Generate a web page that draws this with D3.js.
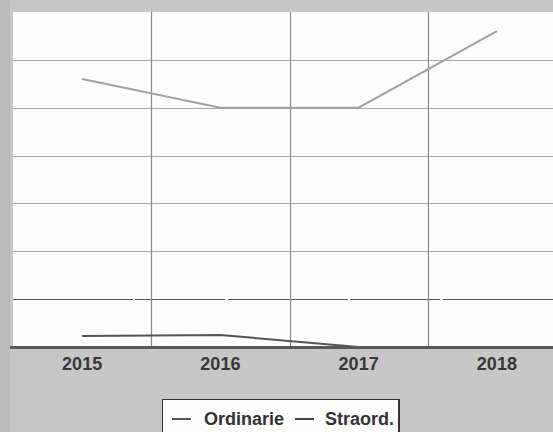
<!DOCTYPE html>
<html>
<head>
<meta charset="utf-8">
<script src="https://cdn.jsdelivr.net/npm/d3@7"></script>
<style>
  html, body { margin: 0; padding: 0; background: #c7c7c7; }
  svg { display: block; }
</style>
</head>
<body>
<svg id="chart" width="553" height="432"></svg>
<script>
// ---- data ----
const years = ["2015", "2016", "2017", "2018"];
const ordinarie = [56, 50, 50, 66];
const straord = [2.3, 2.5, 0, 0];
const yTicks = [0, 10, 20, 30, 40, 50, 60, 70];
const seriesNames = ["Ordinarie", "Straord."];

const W = 553, H = 432;
const svg = d3.select("#chart");

// background
svg.append("rect").attr("width", W).attr("height", H).attr("fill", "#c7c7c7");
svg.append("rect").attr("x", 0).attr("y", 0).attr("width", 10).attr("height", H).attr("fill", "#bababa");

const plot = { left: 13, top: 12, bottom: 347, right: 553 };
const x = d3.scaleBand().domain(years).range([13, 566]).padding(0);
const y = d3.scaleLinear().domain([0, 70]).range([plot.bottom, plot.top]);

// plot area
svg.append("rect")
  .attr("x", plot.left).attr("y", plot.top)
  .attr("width", plot.right - plot.left).attr("height", plot.bottom - plot.top)
  .attr("fill", "#fdfdfd");

// horizontal grid
svg.append("g").selectAll("line").data(yTicks.filter(d => d > 0 && d < 70)).join("line")
  .attr("x1", plot.left).attr("x2", plot.right)
  .attr("y1", d => Math.round(y(d)) + 0.5).attr("y2", d => Math.round(y(d)) + 0.5)
  .attr("stroke", d => d === 10 ? "#5a5a5a" : "#a8a8a8")
  .attr("stroke-width", d => d === 10 ? 1.2 : 1)
  .attr("stroke-dasharray", d => d === 10 ? "120,2,90,3" : null);

// vertical grid at category boundaries
svg.append("g").selectAll("line").data(years.slice(1)).join("line")
  .attr("x1", d => Math.round(x(d)) + 0.5).attr("x2", d => Math.round(x(d)) + 0.5)
  .attr("y1", plot.top).attr("y2", plot.bottom)
  .attr("stroke", "#8a8a8a").attr("stroke-width", 1.2);

// lines
const line = d3.line().x((d, i) => x(years[i]) + x.bandwidth() / 2).y(d => y(d));
svg.append("path").datum(ordinarie).attr("d", line)
  .attr("fill", "none").attr("stroke", "#a2a2a2").attr("stroke-width", 2);
svg.append("path").datum(straord).attr("d", line)
  .attr("fill", "none").attr("stroke", "#555").attr("stroke-width", 2);

// x axis
const xAxis = d3.axisBottom(x).tickSize(0).tickPadding(8);
const gx = svg.append("g").attr("transform", `translate(0,${plot.bottom})`).call(xAxis);
gx.select(".domain").remove();
gx.append("line").attr("x1", 10).attr("x2", W).attr("y1", 0.5).attr("y2", 0.5)
  .attr("stroke", "#5a5a5a").attr("stroke-width", 3.2);
gx.selectAll(".tick text")
  .attr("font-family", "Liberation Sans, Arial, sans-serif")
  .attr("font-size", 18).attr("font-weight", "bold").attr("fill", "#383838")
  .attr("dy", "0.71em").attr("y", 10);

// legend
const lg = svg.append("g");
lg.append("rect").attr("x", 162.5).attr("y", 399.5).attr("width", 236).attr("height", 40)
  .attr("fill", "#fdfdfd").attr("stroke", "#333").attr("stroke-width", 1);
lg.append("line").attr("x1", 399).attr("x2", 399).attr("y1", 399).attr("y2", 432)
  .attr("stroke", "#333").attr("stroke-width", 2);
const legItems = [
  { name: seriesNames[0], color: "#555", dx: 172, tx: 204 },
  { name: seriesNames[1], color: "#444", dx: 295, tx: 325 }
];
legItems.forEach(it => {
  lg.append("line").attr("x1", it.dx).attr("x2", it.dx + 19).attr("y1", 419).attr("y2", 419)
    .attr("stroke", it.color).attr("stroke-width", 2);
  lg.append("text").attr("x", it.tx).attr("y", 425).text(it.name)
    .attr("font-family", "Liberation Sans, Arial, sans-serif")
    .attr("font-size", 18).attr("font-weight", "bold").attr("fill", "#333");
});
</script>
</body>
</html>
